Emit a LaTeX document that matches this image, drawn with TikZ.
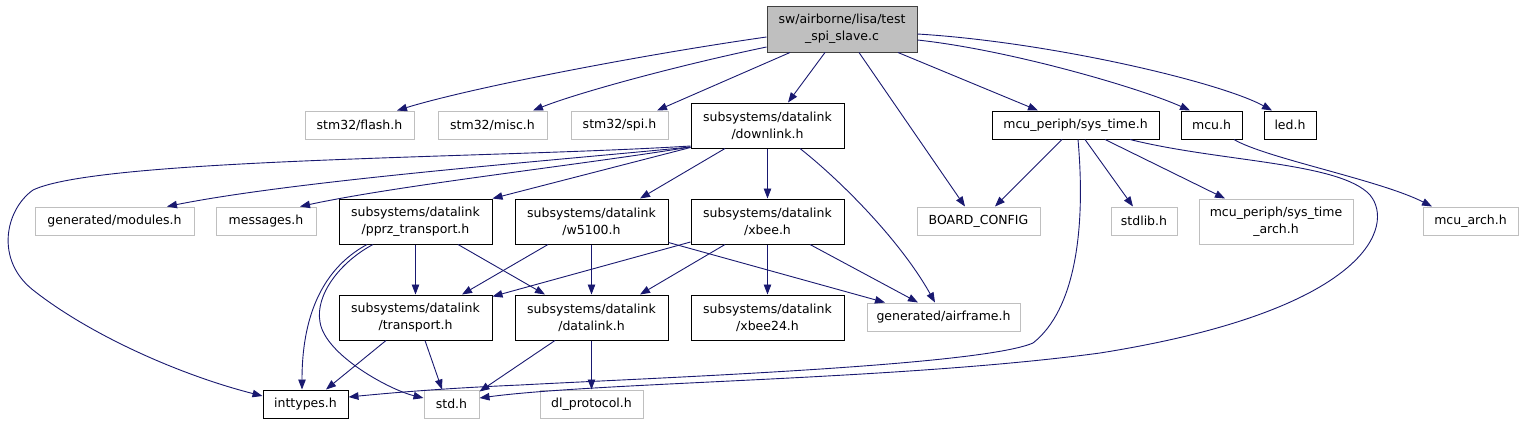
\documentclass[tikz,border=0pt]{standalone}
\usepackage{fontspec}
\setmainfont{DejaVu Sans}
\usetikzlibrary{arrows.meta}
\definecolor{edgec}{HTML}{191970}
\definecolor{grayb}{HTML}{BFBFBF}
\definecolor{rootb}{HTML}{404040}
\tikzset{
  box/.style={draw=black, line width=1pt, inner sep=0pt, align=center, font=\fontsize{12.5}{17}\selectfont},
  gbox/.style={box, draw=grayb},
  rootbox/.style={box, draw=rootb, fill=grayb},
  edge/.style={draw=edgec, line width=0.9pt, -{Triangle[length=10pt,width=7.5pt]}}
}
\begin{document}
\begin{tikzpicture}[x=1pt,y=-1pt]
\useasboundingbox (0,0) rectangle (1540,424);
% nodes
\node[rootbox, minimum width=150pt, minimum height=46pt] (root) at (842,29) {sw/airborne/lisa/test\\\_spi\_slave.c};
\node[gbox, minimum width=109pt, minimum height=28pt] (flash) at (359.5,125) {stm32/flash.h};
\node[gbox, minimum width=109pt, minimum height=28pt] (misc) at (492.5,125) {stm32/misc.h};
\node[gbox, minimum width=97pt, minimum height=28pt] (spi) at (619.5,125) {stm32/spi.h};
\node[box, minimum width=153pt, minimum height=45pt] (downlink) at (767.5,125.5) {subsystems/datalink\\/downlink.h};
\node[box, minimum width=167pt, minimum height=28pt] (systime) at (1075.5,125) {mcu\_periph/sys\_time.h};
\node[box, minimum width=61pt, minimum height=28pt] (mcu) at (1211.5,125) {mcu.h};
\node[box, minimum width=52pt, minimum height=28pt] (led) at (1290,125) {led.h};
\node[gbox, minimum width=159pt, minimum height=28pt] (modules) at (114.5,221) {generated/modules.h};
\node[gbox, minimum width=100pt, minimum height=28pt] (messages) at (266,221) {messages.h};
\node[box, minimum width=153pt, minimum height=45pt] (pprz) at (415.5,221.5) {subsystems/datalink\\/pprz\_transport.h};
\node[box, minimum width=153pt, minimum height=45pt] (wfive) at (591.5,221.5) {subsystems/datalink\\/w5100.h};
\node[box, minimum width=153pt, minimum height=45pt] (xbee) at (767.5,221.5) {subsystems/datalink\\/xbee.h};
\node[gbox, minimum width=123pt, minimum height=28pt] (board) at (978.5,221) {BOARD\_CONFIG};
\node[gbox, minimum width=66pt, minimum height=28pt] (stdlib) at (1144,221) {stdlib.h};
\node[gbox, minimum width=154pt, minimum height=45pt] (starch) at (1276,221.5) {mcu\_periph/sys\_time\\\_arch.h};
\node[gbox, minimum width=95pt, minimum height=28pt] (mcuarch) at (1470.5,221) {mcu\_arch.h};
\node[box, minimum width=153pt, minimum height=45pt] (transport) at (415.5,317.5) {subsystems/datalink\\/transport.h};
\node[box, minimum width=153pt, minimum height=45pt] (datalink) at (591.5,317.5) {subsystems/datalink\\/datalink.h};
\node[box, minimum width=153pt, minimum height=45pt] (xbeetf) at (767.5,317.5) {subsystems/datalink\\/xbee24.h};
\node[gbox, minimum width=153pt, minimum height=28pt] (airframe) at (943.5,317) {generated/airframe.h};
\node[box, minimum width=85pt, minimum height=28pt] (inttypes) at (305.5,404) {inttypes.h};
\node[gbox, minimum width=55pt, minimum height=28pt] (std) at (451.5,404) {std.h};
\node[gbox, minimum width=103pt, minimum height=28pt] (dlproto) at (591.5,404) {dl\_protocol.h};
% root edges
\draw[edge] ([yshift=-8pt]root.west) .. controls (640,55) and (470,88) .. ([xshift=37.5pt]flash.north);
\draw[edge] ([yshift=-18pt]root.west) .. controls (680,65) and (580,92) .. ([xshift=40.5pt]misc.north);
\draw[edge] ([xshift=-52pt]root.south) -- ([xshift=37.5pt]spi.north);
\draw[edge] ([xshift=-17pt]root.south) -- ([xshift=20.5pt]downlink.north);
\draw[edge] ([xshift=17pt]root.south) -- ([xshift=-13.5pt]board.north);
\draw[edge] ([xshift=56pt]root.south) -- ([xshift=-37.5pt]systime.north);
\draw[edge] ([yshift=-11pt]root.east) .. controls (1010,50) and (1140,88) .. ([xshift=-21.5pt]mcu.north);
\draw[edge] ([yshift=-5pt]root.east) .. controls (1050,42) and (1220,82) .. ([xshift=-18pt]led.north);
% downlink edges
\draw[edge] ([yshift=-20.5pt]downlink.west) .. controls (500,158) and (100,158) .. (33,190)
  .. controls (5,210) and (-5,260) .. (33,290) .. controls (90,335) and (180,375) .. ([yshift=8pt]inttypes.west);
\draw[edge] ([yshift=-21.5pt]downlink.west) .. controls (560,160) and (300,180) .. ([xshift=52.5pt]modules.north);
\draw[edge] ([yshift=-21.5pt]downlink.west) .. controls (580,165) and (400,185) .. ([xshift=34pt]messages.north);
\draw[edge] ([yshift=-22pt]downlink.west) -- (pprz.north east);
\draw[edge] ([xshift=-42.5pt]downlink.south) -- ([xshift=48.5pt]wfive.north);
\draw[edge] (downlink.south) -- (xbee.north);
\draw[edge] ([xshift=32.5pt]downlink.south) .. controls (840,180) and (900,240) .. ([xshift=-8.5pt]airframe.north);
% pprz edges
\draw[edge] (pprz.south) -- (transport.north);
\draw[edge] ([xshift=42.5pt]pprz.south) -- ([xshift=-46.5pt]datalink.north);
\draw[edge] ([xshift=-48.5pt]pprz.south) .. controls (320,270) and (302,320) .. ([xshift=-3.5pt]inttypes.north);
\draw[edge] ([xshift=-42.5pt]pprz.south) .. controls (340,262) and (315,295) .. (320,322)
  .. controls (325,355) and (390,390) .. ([yshift=6pt]std.west);
% w5100 edges
\draw[edge] ([xshift=-43.5pt]wfive.south) -- ([xshift=46.5pt]transport.north);
\draw[edge] (wfive.south) -- (datalink.north);
\draw[edge] ([yshift=2pt]wfive.south east) -- ([xshift=-58.5pt]airframe.north);
% xbee edges
\draw[edge] ([yshift=-20.5pt]xbee.west) -- ([yshift=-2pt]transport.north east);
\draw[edge] ([xshift=-42.5pt]xbee.south) -- ([xshift=48.5pt]datalink.north);
\draw[edge] (xbee.south) -- (xbeetf.north);
\draw[edge] ([xshift=42.5pt]xbee.south) -- ([xshift=-25.5pt]airframe.north);
% transport / datalink edges
\draw[edge] ([xshift=-29.5pt]transport.south) -- ([xshift=20.5pt]inttypes.north);
\draw[edge] ([xshift=9.5pt]transport.south) -- ([xshift=-9.5pt]std.north);
\draw[edge] ([xshift=-36.5pt]datalink.south) -- ([yshift=-2pt]std.north east);
\draw[edge] (datalink.south) -- (dlproto.north);
% sys_time edges
\draw[edge] ([xshift=-13.5pt]systime.south) -- ([xshift=16.5pt]board.north);
\draw[edge] ([xshift=9.5pt]systime.south) -- ([xshift=-11pt]stdlib.north);
\draw[edge] ([xshift=29.5pt]systime.south) -- ([xshift=-51pt]starch.north);
\draw[edge] ([xshift=2.5pt]systime.south) .. controls (1086,230) and (1075,310) .. (1033,343)
  .. controls (980,366) and (650,378) .. (520,385) .. controls (450,388) and (400,392) .. ([yshift=7pt]inttypes.east);
\draw[edge] ([xshift=54.5pt]systime.south) .. controls (1220,162) and (1340,162) .. (1370,195)
  .. controls (1395,225) and (1370,310) .. (1100,353) .. controls (900,380) and (600,382) .. ([yshift=6pt]std.east);
% mcu edge
\draw[edge] ([xshift=22.5pt]mcu.south) .. controls (1265,158) and (1380,180) .. ([xshift=-38.5pt]mcuarch.north);
\end{tikzpicture}
\end{document}
